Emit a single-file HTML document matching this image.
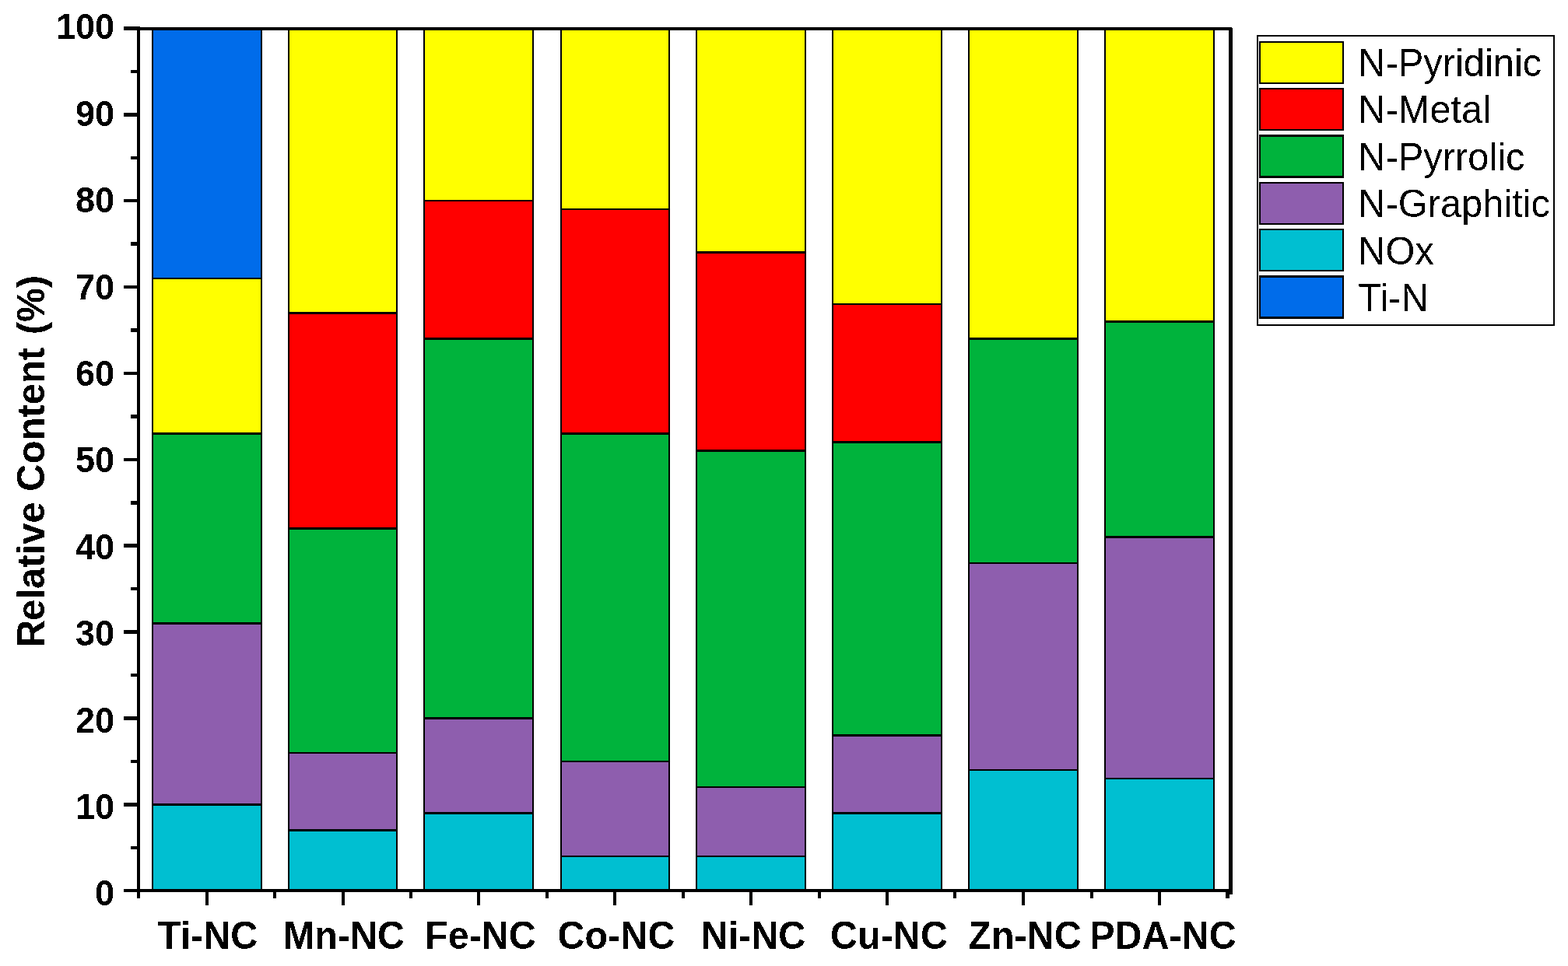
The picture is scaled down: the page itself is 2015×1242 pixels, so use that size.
<!DOCTYPE html>
<html lang="en"><head><meta charset="utf-8">
<title>Relative Content (%)</title>
<style>
html,body{margin:0;padding:0;background:#fff;}
body{width:2015px;height:1242px;overflow:hidden;}
svg{display:block;}
.b{font-family:"Liberation Sans",Arial,Helvetica,sans-serif;font-weight:700;fill:#000;}
.r{font-family:"Liberation Sans",Arial,Helvetica,sans-serif;font-weight:400;fill:#000;}
</style></head><body>
<svg width="2015" height="1242" viewBox="0 0 2015 1242">
<rect x="0" y="0" width="2015" height="1242" fill="#fff"/>
<defs><filter id="px" x="-5%" y="-5%" width="110%" height="110%" color-interpolation-filters="sRGB"><feComponentTransfer><feFuncA type="discrete" tableValues="0 1"/></feComponentTransfer></filter></defs>
<g shape-rendering="crispEdges">
<g id="bars">
<rect x="195" y="1034" width="142" height="109" fill="#00BFD1"/>
<rect x="195" y="802" width="142" height="232" fill="#8E5EAE"/>
<rect x="195" y="558" width="142" height="244" fill="#00B33C"/>
<rect x="195" y="358" width="142" height="200" fill="#FFFF00"/>
<rect x="195" y="39" width="142" height="319" fill="#006CEA"/>
<rect x="195" y="39" width="2" height="1104" fill="#000"/>
<rect x="335" y="39" width="2" height="1104" fill="#000"/>
<rect x="195" y="1033" width="142" height="3" fill="#000"/>
<rect x="195" y="800" width="142" height="3" fill="#000"/>
<rect x="195" y="556" width="142" height="3" fill="#000"/>
<rect x="195" y="357" width="142" height="2" fill="#000"/>
<rect x="370" y="1068" width="141" height="75" fill="#00BFD1"/>
<rect x="370" y="968" width="141" height="100" fill="#8E5EAE"/>
<rect x="370" y="680" width="141" height="288" fill="#00B33C"/>
<rect x="370" y="402" width="141" height="278" fill="#FF0000"/>
<rect x="370" y="39" width="141" height="363" fill="#FFFF00"/>
<rect x="370" y="39" width="2" height="1104" fill="#000"/>
<rect x="509" y="39" width="2" height="1104" fill="#000"/>
<rect x="370" y="1066" width="141" height="3" fill="#000"/>
<rect x="370" y="967" width="141" height="2" fill="#000"/>
<rect x="370" y="678" width="141" height="3" fill="#000"/>
<rect x="370" y="401" width="141" height="3" fill="#000"/>
<rect x="544" y="1045" width="142" height="98" fill="#00BFD1"/>
<rect x="544" y="923" width="142" height="122" fill="#8E5EAE"/>
<rect x="544" y="436" width="142" height="487" fill="#00B33C"/>
<rect x="544" y="258" width="142" height="178" fill="#FF0000"/>
<rect x="544" y="39" width="142" height="219" fill="#FFFF00"/>
<rect x="544" y="39" width="2" height="1104" fill="#000"/>
<rect x="684" y="39" width="2" height="1104" fill="#000"/>
<rect x="544" y="1044" width="142" height="3" fill="#000"/>
<rect x="544" y="922" width="142" height="3" fill="#000"/>
<rect x="544" y="434" width="142" height="3" fill="#000"/>
<rect x="544" y="257" width="142" height="2" fill="#000"/>
<rect x="720" y="1101" width="141" height="42" fill="#00BFD1"/>
<rect x="720" y="979" width="141" height="122" fill="#8E5EAE"/>
<rect x="720" y="558" width="141" height="421" fill="#00B33C"/>
<rect x="720" y="269" width="141" height="289" fill="#FF0000"/>
<rect x="720" y="39" width="141" height="230" fill="#FFFF00"/>
<rect x="720" y="39" width="2" height="1104" fill="#000"/>
<rect x="859" y="39" width="2" height="1104" fill="#000"/>
<rect x="720" y="1100" width="141" height="2" fill="#000"/>
<rect x="720" y="978" width="141" height="2" fill="#000"/>
<rect x="720" y="556" width="141" height="3" fill="#000"/>
<rect x="720" y="268" width="141" height="2" fill="#000"/>
<rect x="894" y="1101" width="142" height="42" fill="#00BFD1"/>
<rect x="894" y="1012" width="142" height="89" fill="#8E5EAE"/>
<rect x="894" y="580" width="142" height="432" fill="#00B33C"/>
<rect x="894" y="325" width="142" height="255" fill="#FF0000"/>
<rect x="894" y="39" width="142" height="286" fill="#FFFF00"/>
<rect x="894" y="39" width="2" height="1104" fill="#000"/>
<rect x="1034" y="39" width="2" height="1104" fill="#000"/>
<rect x="894" y="1100" width="142" height="2" fill="#000"/>
<rect x="894" y="1011" width="142" height="2" fill="#000"/>
<rect x="894" y="578" width="142" height="3" fill="#000"/>
<rect x="894" y="323" width="142" height="3" fill="#000"/>
<rect x="1069" y="1045" width="142" height="98" fill="#00BFD1"/>
<rect x="1069" y="946" width="142" height="99" fill="#8E5EAE"/>
<rect x="1069" y="569" width="142" height="377" fill="#00B33C"/>
<rect x="1069" y="391" width="142" height="178" fill="#FF0000"/>
<rect x="1069" y="39" width="142" height="352" fill="#FFFF00"/>
<rect x="1069" y="39" width="2" height="1104" fill="#000"/>
<rect x="1209" y="39" width="2" height="1104" fill="#000"/>
<rect x="1069" y="1044" width="142" height="3" fill="#000"/>
<rect x="1069" y="944" width="142" height="3" fill="#000"/>
<rect x="1069" y="567" width="142" height="3" fill="#000"/>
<rect x="1069" y="390" width="142" height="2" fill="#000"/>
<rect x="1244" y="990" width="142" height="153" fill="#00BFD1"/>
<rect x="1244" y="724" width="142" height="266" fill="#8E5EAE"/>
<rect x="1244" y="436" width="142" height="288" fill="#00B33C"/>
<rect x="1244" y="39" width="142" height="397" fill="#FFFF00"/>
<rect x="1244" y="39" width="2" height="1104" fill="#000"/>
<rect x="1384" y="39" width="2" height="1104" fill="#000"/>
<rect x="1244" y="989" width="142" height="2" fill="#000"/>
<rect x="1244" y="723" width="142" height="2" fill="#000"/>
<rect x="1244" y="434" width="142" height="3" fill="#000"/>
<rect x="1419" y="1001" width="142" height="142" fill="#00BFD1"/>
<rect x="1419" y="691" width="142" height="310" fill="#8E5EAE"/>
<rect x="1419" y="413" width="142" height="278" fill="#00B33C"/>
<rect x="1419" y="39" width="142" height="374" fill="#FFFF00"/>
<rect x="1419" y="39" width="2" height="1104" fill="#000"/>
<rect x="1559" y="39" width="2" height="1104" fill="#000"/>
<rect x="1419" y="1000" width="142" height="2" fill="#000"/>
<rect x="1419" y="689" width="142" height="3" fill="#000"/>
<rect x="1419" y="412" width="142" height="3" fill="#000"/>
</g>
<g id="frame">
<rect x="176" y="35" width="4" height="1112" fill="#000"/>
<rect x="1579" y="35" width="5" height="1115" fill="#000"/>
<rect x="176" y="35" width="1408" height="4" fill="#000"/>
<rect x="176" y="1143" width="1408" height="4" fill="#000"/>
<rect x="1583" y="35" width="1" height="1" fill="#fff"/>
</g>
<g id="yticks">
<rect x="159" y="1143" width="17" height="4" fill="#000"/>
<rect x="168" y="1088" width="8" height="4" fill="#000"/>
<rect x="159" y="1032" width="17" height="5" fill="#000"/>
<rect x="168" y="977" width="8" height="4" fill="#000"/>
<rect x="159" y="921" width="17" height="5" fill="#000"/>
<rect x="168" y="866" width="8" height="4" fill="#000"/>
<rect x="159" y="810" width="17" height="5" fill="#000"/>
<rect x="168" y="755" width="8" height="4" fill="#000"/>
<rect x="159" y="699" width="17" height="5" fill="#000"/>
<rect x="168" y="644" width="8" height="5" fill="#000"/>
<rect x="159" y="589" width="17" height="4" fill="#000"/>
<rect x="168" y="533" width="8" height="5" fill="#000"/>
<rect x="159" y="478" width="17" height="4" fill="#000"/>
<rect x="168" y="422" width="8" height="5" fill="#000"/>
<rect x="159" y="367" width="17" height="4" fill="#000"/>
<rect x="168" y="311" width="8" height="5" fill="#000"/>
<rect x="159" y="256" width="17" height="4" fill="#000"/>
<rect x="168" y="201" width="8" height="4" fill="#000"/>
<rect x="159" y="145" width="17" height="5" fill="#000"/>
<rect x="168" y="90" width="8" height="4" fill="#000"/>
<rect x="159" y="34" width="21" height="5" fill="#000"/>
</g>
<g id="xticks">
<rect x="264" y="1147" width="4" height="17" fill="#000"/>
<rect x="439" y="1147" width="4" height="17" fill="#000"/>
<rect x="613" y="1147" width="4" height="17" fill="#000"/>
<rect x="788" y="1147" width="4" height="17" fill="#000"/>
<rect x="963" y="1147" width="4" height="17" fill="#000"/>
<rect x="1138" y="1147" width="4" height="17" fill="#000"/>
<rect x="1313" y="1147" width="4" height="17" fill="#000"/>
<rect x="1488" y="1147" width="4" height="17" fill="#000"/>
<rect x="176" y="1147" width="4" height="8" fill="#000"/>
<rect x="351" y="1147" width="4" height="8" fill="#000"/>
<rect x="526" y="1147" width="4" height="8" fill="#000"/>
<rect x="701" y="1147" width="4" height="8" fill="#000"/>
<rect x="876" y="1147" width="4" height="8" fill="#000"/>
<rect x="1051" y="1147" width="4" height="8" fill="#000"/>
<rect x="1225" y="1147" width="4" height="8" fill="#000"/>
<rect x="1401" y="1147" width="4" height="8" fill="#000"/>
<rect x="1575" y="1147" width="5" height="8" fill="#000"/>
</g>
<g id="legend">
<rect x="1615" y="45" width="383" height="374" fill="#000"/>
<rect x="1617" y="47" width="379" height="370" fill="#fff"/>
<rect x="1618" y="53" width="109" height="55" fill="#000"/>
<rect x="1620" y="55" width="105" height="51" fill="#FFFF00"/>
<rect x="1618" y="113" width="109" height="55" fill="#000"/>
<rect x="1620" y="115" width="105" height="51" fill="#FF0000"/>
<rect x="1618" y="173" width="109" height="56" fill="#000"/>
<rect x="1620" y="176" width="105" height="50" fill="#00B33C"/>
<rect x="1618" y="234" width="109" height="55" fill="#000"/>
<rect x="1620" y="236" width="105" height="51" fill="#8E5EAE"/>
<rect x="1618" y="294" width="109" height="55" fill="#000"/>
<rect x="1620" y="296" width="105" height="51" fill="#00BFD1"/>
<rect x="1618" y="354" width="109" height="56" fill="#000"/>
<rect x="1620" y="357" width="105" height="50" fill="#006CEA"/>
</g>
</g>
<g id="labels" filter="url(#px)">
<g id="ylabels" class="b" font-size="45" text-anchor="end">
<text transform="translate(147 1164.0) scale(1 1.04)">0</text>
<text transform="translate(147 1053.0) scale(1 1.04)">10</text>
<text transform="translate(147 942.0) scale(1 1.04)">20</text>
<text transform="translate(147 830.0) scale(1 1.04)">30</text>
<text transform="translate(147 719.0) scale(1 1.04)">40</text>
<text transform="translate(147 607.0) scale(1 1.04)">50</text>
<text transform="translate(147 496.0) scale(1 1.04)">60</text>
<text transform="translate(147 385.0) scale(1 1.04)">70</text>
<text transform="translate(147 273.0) scale(1 1.04)">80</text>
<text transform="translate(147 162.0) scale(1 1.04)">90</text>
<text transform="translate(147 50.0) scale(1 1.04)">100</text>
</g>
<g id="xlabels" class="b" font-size="48.5" text-anchor="middle">
<text transform="translate(267 1220) scale(1 1.04)">Ti-NC</text>
<text transform="translate(442 1220) scale(1 1.04)">Mn-NC</text>
<text transform="translate(617.5 1220) scale(1 1.04)">Fe-NC</text>
<text transform="translate(792 1220) scale(1 1.04)">Co-NC</text>
<text transform="translate(968 1220) scale(1 1.04)">Ni-NC</text>
<text transform="translate(1142.5 1220) scale(1 1.04)">Cu-NC</text>
<text transform="translate(1317 1220) scale(1 1.04)">Zn-NC</text>
<text transform="translate(1494.5 1220) scale(1 1.04)">PDA-NC</text>
</g>
<text class="b" font-size="49" text-anchor="middle" dx="0 -1 0 0 0 0 0 0 0 0 0 0 0 0 0 0 3" transform="translate(57 593.2) rotate(-90) scale(1 1.02)">Relative Content (%)</text>
<g id="legendtext" class="r" font-size="48.8">
<text transform="translate(1745.3 98.0) scale(1 1.02)">N-Pyridinic</text>
<text transform="translate(1745.3 158.4) scale(1 1.02)">N-Metal</text>
<text transform="translate(1745.3 218.8) scale(1 1.02)">N-Pyrrolic</text>
<text transform="translate(1745.3 279.2) scale(1 1.02)">N-Graphitic</text>
<text transform="translate(1745.3 339.6) scale(1 1.02)">NOx</text>
<text transform="translate(1745.3 400.0) scale(1 1.02)">Ti-N</text>
</g>
</g>
</svg>
</body></html>
